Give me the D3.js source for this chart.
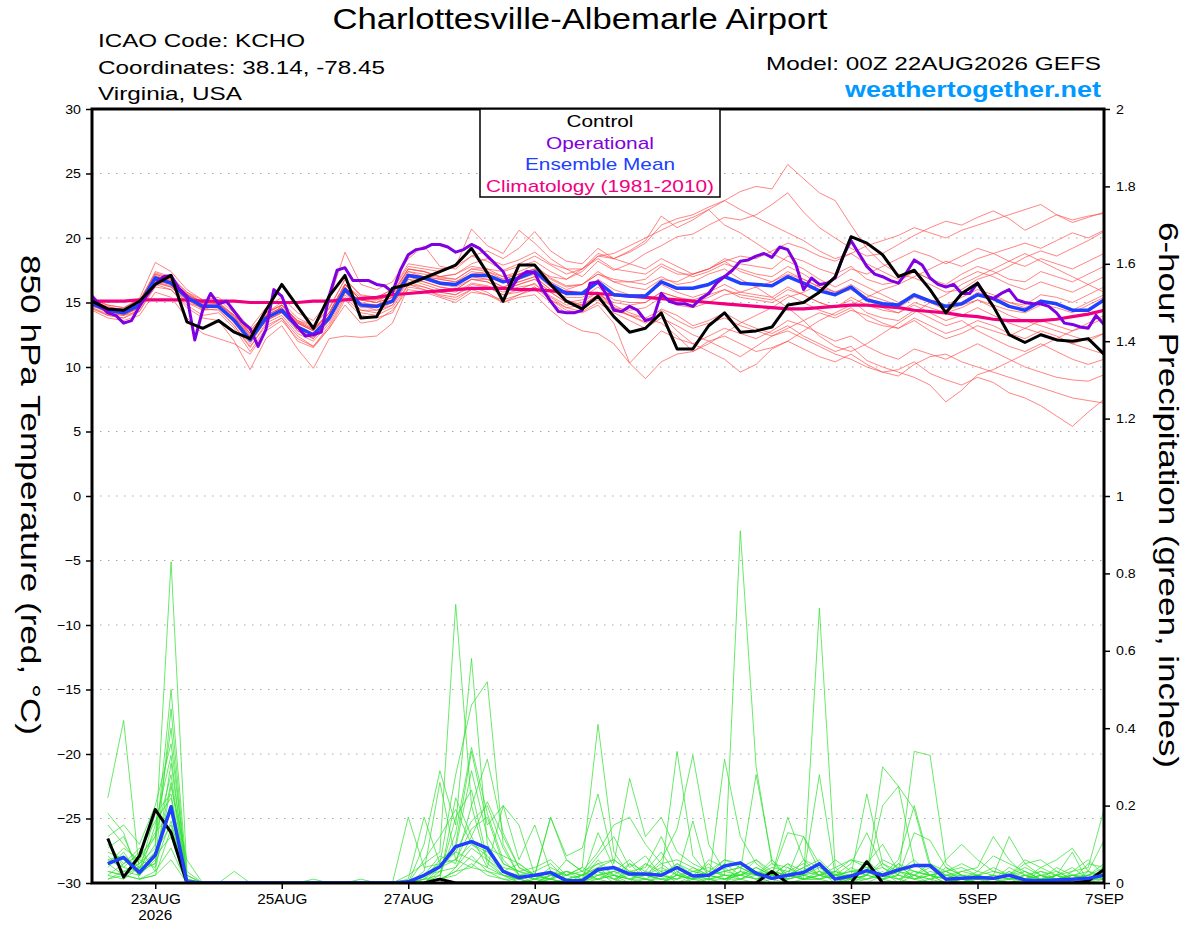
<!DOCTYPE html>
<html>
<head>
<meta charset="utf-8">
<script src="https://cdn.jsdelivr.net/npm/d3@7"></script>
<style>
  body { margin: 0; background: #fff; }
  svg text { font-family: 'Liberation Sans', Arial, Helvetica, sans-serif; }
</style>
</head>
<body>
<svg id="chart" width="1200" height="927"></svg>
<script>
// ---- data ----
var runStart = Date.UTC(2026, 7, 22, 0);   // 00Z 22AUG2026
var runEnd = Date.UTC(2026, 8, 7, 0);

var tempTicks = [-30, -25, -20, -15, -10, -5, 0, 5, 10, 15, 20, 25, 30];
var gridTicks = [-25, -20, -15, -10, -5, 0, 5, 10, 15, 20, 25];
var precipTicks = [0, 0.2, 0.4, 0.6, 0.8, 1, 1.2, 1.4, 1.6, 1.8, 2];
var dateTicks = ["2026-08-23", "2026-08-25", "2026-08-27", "2026-08-29", "2026-09-01", "2026-09-03", "2026-09-05", "2026-09-07"];
var dateLabels = ["23AUG", "25AUG", "27AUG", "29AUG", "1SEP", "3SEP", "5SEP", "7SEP"];

var legendItems = ["Control", "Operational", "Ensemble Mean", "Climatology (1981-2010)"];
var legendColors = ["#000000", "#8000e0", "#2040ff", "#f0007f"];

// 850 hPa temperature, 6-hourly from 00Z 22AUG (65 values)
var controlTemp = [15.1,14.5,14.4,15.1,16.4,17.1,13.5,13.0,13.6,12.7,12.2,14.4,16.4,14.7,13.0,15.5,17.1,13.8,13.9,16.1,16.4,16.9,17.4,17.9,19.2,17.3,15.1,17.9,17.9,16.4,15.1,14.5,15.5,13.9,12.7,13.0,14.2,11.4,11.4,13.2,14.2,12.7,12.8,13.1,14.8,15.0,15.8,17.0,20.1,19.6,18.7,17.0,17.5,16.0,14.2,15.7,16.5,14.7,12.5,11.9,12.5,12.1,12.0,12.2,11.0];
var meanTemp = [14.9,14.4,14.2,14.8,16.9,16.5,15.4,14.7,14.7,13.6,12.1,13.8,14.4,13.1,12.5,13.8,16.0,14.8,14.7,15.1,17.1,16.9,16.5,16.4,17.1,17.1,16.6,16.9,17.4,16.4,15.7,15.7,16.6,15.6,15.5,15.5,16.6,16.1,16.1,16.4,17.0,16.5,16.4,16.3,17.0,16.5,15.9,15.6,16.2,15.2,14.9,14.8,15.6,15.1,14.7,14.9,15.6,15.3,14.7,14.4,15.1,14.9,14.4,14.4,15.2];
var climoTemp = [15.1,15.1,15.1,15.2,15.2,15.2,15.2,15.1,15.1,15.1,15.0,15.0,15.0,15.0,15.1,15.1,15.2,15.3,15.4,15.6,15.7,15.8,15.9,16.0,16.1,16.1,16.1,16.0,16.0,15.9,15.8,15.7,15.7,15.6,15.5,15.4,15.3,15.2,15.1,15.0,14.9,14.8,14.7,14.6,14.5,14.5,14.6,14.7,14.8,14.8,14.7,14.6,14.4,14.3,14.2,14.0,13.9,13.7,13.6,13.6,13.6,13.7,13.9,14.1,14.4];
// operational run is 3-hourly (129 values)
var operationalTemp = [15.5,14.8,14.2,14.0,13.4,13.6,14.7,15.6,16.4,17.0,17.1,16.1,15.5,12.1,14.4,15.7,14.9,15.1,14.3,13.5,13.0,11.6,12.9,16.0,15.5,13.9,13.1,12.4,12.5,12.7,15.5,17.5,17.7,16.7,16.7,16.7,16.4,16.3,15.8,17.5,18.7,19.1,19.2,19.5,19.5,19.3,18.9,19.1,19.5,19.2,18.6,18.0,17.4,16.1,17.0,17.4,17.3,16.0,15.1,14.3,14.2,14.2,14.4,16.5,16.6,15.7,14.4,14.3,14.7,14.4,13.6,13.8,15.7,15.1,14.9,14.9,14.7,15.3,15.7,16.5,17.0,17.5,18.2,18.3,18.6,18.8,18.5,19.3,19.1,18.0,16.0,16.9,16.4,16.5,16.9,18.6,19.8,18.8,17.8,17.2,17.0,16.7,16.5,17.3,18.3,17.9,16.9,16.4,16.2,16.4,15.7,15.7,16.5,15.5,15.3,15.7,16.0,15.2,15.0,14.9,14.9,14.7,14.2,13.4,13.3,13.1,13.0,14.0,13.3];

// ensemble members, 6-hourly (65 values each)
var memberTemp = [
  [15.2,14.6,14.5,15.0,17.4,17.0,15.8,15.2,15.0,14.0,12.8,14.2,15.0,13.8,13.2,14.5,16.8,15.5,15.4,16.0,18.0,17.8,17.6,17.8,18.6,18.2,17.5,18.0,18.6,17.9,17.2,17.6,18.8,18.4,18.9,19.6,21.0,21.5,21.8,22.4,22.9,23.6,24.0,23.8,25.7,24.6,23.5,22.9,21.0,19.2,18.0,17.2,16.9,16.4,15.8,16.0,16.8,17.2,17.8,18.5,19.0,18.6,19.2,19.8,20.5],
  [14.8,14.2,14.0,14.6,17.2,16.8,15.6,14.4,14.9,13.9,12.5,13.5,14.8,13.5,12.9,14.2,16.4,15.2,15.0,15.8,17.6,17.4,17.0,17.2,18.0,18.4,17.9,18.3,18.9,18.0,17.6,17.0,18.2,17.5,18.0,18.8,19.4,20.1,20.3,21.0,21.6,21.4,21.8,22.6,23.5,22.0,20.8,20.0,19.2,18.6,18.8,19.5,20.2,20.8,21.3,21.0,21.6,22.1,21.5,20.6,21.2,21.8,21.4,21.7,21.9],
  [15.0,14.5,14.0,14.3,16.2,16.0,14.8,14.0,14.2,13.0,11.2,13.0,13.8,12.0,11.5,13.0,15.2,14.0,13.8,14.2,16.4,16.0,15.5,15.2,16.0,16.2,15.6,16.0,16.5,15.2,14.6,14.3,15.0,14.2,13.6,13.0,13.8,13.2,12.5,12.0,12.4,11.8,11.2,11.5,12.0,11.4,10.8,10.4,11.0,10.2,9.6,9.8,10.4,9.5,9.0,8.6,9.2,8.8,8.0,7.6,7.0,6.2,5.4,6.5,7.5],
  [14.6,14.0,13.8,14.5,16.5,16.2,15.2,14.5,14.4,13.2,11.5,13.4,14.0,12.6,12.0,13.4,15.6,14.4,14.2,14.8,16.8,16.4,16.0,15.8,16.5,16.3,15.8,16.2,16.4,15.5,14.8,15.0,15.8,14.6,14.0,13.5,14.5,14.0,13.2,13.6,14.2,13.5,13.0,12.6,13.2,12.4,11.8,11.2,11.6,10.5,10.0,9.6,9.2,8.6,7.3,8.2,9.4,9.8,10.4,11.0,11.6,12.2,12.8,13.4,14.0],
  [15.1,14.7,14.4,15.0,17.0,16.6,15.5,14.8,14.6,13.5,12.0,13.6,14.2,13.0,12.2,13.6,15.8,14.6,14.6,15.2,17.0,16.6,16.2,16.0,16.8,16.6,16.0,16.4,16.8,15.8,15.0,14.8,15.2,14.4,14.0,13.8,14.4,13.6,13.0,13.4,13.8,13.2,12.8,12.4,12.8,12.2,11.6,11.0,10.6,10.0,9.6,9.3,10.2,10.8,11.0,10.4,10.0,9.6,9.2,8.8,8.4,8.0,7.6,7.4,7.2],
  [14.7,14.3,14.1,14.6,16.6,16.3,15.0,14.6,14.8,13.6,12.2,13.6,14.6,12.8,12.2,13.8,16.2,14.8,14.4,14.8,16.6,16.2,15.8,15.6,16.2,15.8,15.0,15.4,15.6,14.4,13.4,12.8,12.6,11.8,10.3,9.1,10.4,11.0,11.2,12.0,11.4,10.8,11.6,12.4,13.0,13.6,14.2,13.8,14.4,14.0,13.4,13.0,13.6,12.8,12.2,12.6,13.2,12.8,12.4,13.0,12.6,12.2,11.8,12.2,12.6],
  [15.3,14.8,14.6,15.2,17.2,16.8,15.6,15.0,15.2,14.2,12.6,14.2,14.8,13.6,13.0,14.2,16.4,15.2,15.0,15.4,17.4,17.0,16.6,16.4,17.0,16.8,16.2,16.6,17.0,16.0,15.2,14.8,15.6,14.6,14.0,13.4,14.0,12.8,11.8,11.2,10.6,9.6,10.2,11.4,12.0,12.8,13.6,14.2,14.8,15.4,16.0,16.4,17.0,17.6,18.2,17.8,18.4,18.8,19.2,19.6,19.2,19.8,20.4,20.0,20.6],
  [14.9,14.5,14.3,14.9,17.0,16.6,15.6,14.9,14.6,13.8,12.4,14.0,14.6,13.4,12.8,14.2,16.4,15.2,15.2,15.6,17.6,17.4,17.0,17.2,17.8,17.6,17.4,17.8,18.2,17.4,16.8,17.4,18.6,18.8,19.4,20.0,20.6,21.2,21.6,22.2,21.0,20.4,19.6,18.8,18.2,17.6,16.8,16.2,16.8,16.2,15.6,15.0,15.6,15.0,14.4,14.8,15.2,14.6,14.0,13.6,13.2,12.8,12.4,12.0,12.6],
  [14.8,14.4,14.2,14.7,16.8,16.4,15.3,14.6,14.7,13.6,12.0,13.6,14.2,13.0,12.6,14.0,16.0,14.8,14.8,15.2,17.2,17.0,16.8,16.6,17.2,17.4,16.8,17.2,17.6,16.8,16.2,16.4,17.2,16.6,16.2,16.0,16.8,16.6,17.2,17.6,18.2,18.6,18.4,19.0,19.6,19.2,18.6,18.2,18.8,19.4,19.8,20.2,20.8,20.4,20.0,20.6,21.0,21.4,21.8,22.2,22.6,21.8,21.2,21.6,22.0],
  [14.9,14.3,14.1,14.7,16.7,16.4,15.3,14.7,14.8,13.4,11.8,13.6,14.2,12.8,12.2,13.6,15.8,14.4,14.4,15.0,16.8,16.6,16.2,16.0,16.8,16.8,16.2,16.6,17.0,16.0,15.4,15.4,16.2,15.2,15.0,15.0,15.8,15.4,15.2,15.6,16.0,15.4,15.2,15.0,15.6,15.0,14.4,14.0,14.6,13.6,13.2,13.0,13.8,13.2,12.6,13.0,13.6,13.2,12.6,12.2,12.8,12.4,11.8,11.4,11.0],
  [15.0,14.6,14.4,15.1,17.3,16.9,15.8,15.0,14.9,13.9,12.6,14.1,14.8,13.5,12.9,14.2,16.4,15.2,15.0,15.4,17.4,17.2,16.9,16.8,17.6,17.6,17.0,17.4,17.9,16.9,16.3,16.4,17.4,16.6,16.6,16.8,17.8,17.2,17.2,17.6,18.4,18.0,17.8,17.6,18.6,18.2,17.6,17.2,17.8,16.8,16.4,16.6,17.4,16.8,16.4,17.2,17.8,17.4,16.8,16.6,17.4,17.0,16.6,17.2,17.8],
  [14.5,14.0,13.8,14.3,16.4,16.0,14.6,13.8,13.6,12.0,9.8,12.2,13.2,11.4,9.9,12.2,12.4,12.3,12.4,13.4,16.2,16.0,15.6,15.4,16.0,15.6,15.0,15.6,16.0,15.0,14.2,14.4,15.4,14.6,14.4,14.6,15.4,14.8,14.6,15.0,15.6,15.8,16.2,16.6,17.2,16.8,16.2,15.6,16.0,15.2,14.6,14.2,14.8,14.2,13.6,14.0,14.6,14.0,13.4,13.0,13.6,13.2,12.8,13.2,13.8],
  [15.2,14.8,14.6,15.3,18.1,17.4,16.0,15.2,15.4,14.4,13.0,14.6,15.4,14.2,13.6,15.2,18.9,16.4,16.0,16.6,18.4,19.4,17.8,17.6,18.6,19.0,18.4,19.2,20.5,19.0,18.2,18.0,19.2,18.4,18.0,17.6,18.4,17.8,17.2,17.6,18.2,17.4,17.0,16.6,17.4,16.8,16.2,15.8,16.4,15.6,15.2,14.8,15.6,15.2,14.8,15.4,16.0,15.6,15.0,14.6,15.2,14.8,14.4,15.0,15.6],
  [14.8,14.4,14.3,14.9,17.0,16.7,15.6,15.0,14.9,14.0,12.8,14.2,14.8,13.6,13.2,14.6,16.8,15.6,15.4,16.0,17.8,17.6,17.4,17.8,20.7,19.4,18.8,20.6,19.6,18.4,17.6,17.6,18.4,17.6,17.4,17.2,18.0,17.4,17.0,17.4,18.0,17.6,17.2,17.0,17.8,17.2,16.4,15.8,16.2,15.4,14.8,14.6,15.4,15.0,14.6,15.0,15.8,15.4,15.0,14.8,15.6,15.4,15.0,15.6,16.2],
  [14.6,14.1,14.0,14.6,16.6,16.2,15.0,14.4,14.5,13.2,11.6,13.2,13.8,12.4,11.6,13.2,15.4,14.2,14.0,14.6,16.4,16.2,15.8,15.6,16.4,16.2,15.6,15.8,16.2,15.2,14.4,14.2,14.8,13.4,10.3,11.6,12.8,12.2,11.8,12.4,13.0,12.6,12.2,12.8,13.6,13.2,12.6,12.0,12.4,11.6,11.0,10.6,11.4,11.0,10.6,11.2,11.8,11.2,10.6,10.0,9.6,9.2,9.0,8.9,9.4],
  [15.0,14.4,14.2,14.8,16.8,16.5,15.4,14.7,14.6,13.6,12.2,13.8,14.4,13.0,12.4,13.8,16.0,14.8,14.6,15.0,17.0,16.8,16.4,16.2,16.8,16.6,16.0,16.4,16.8,15.8,15.0,15.2,15.8,14.8,14.2,13.8,13.4,12.4,11.2,11.8,12.6,13.4,14.0,14.6,15.4,15.8,16.4,16.8,17.6,17.2,17.8,18.4,19.0,18.6,18.0,18.6,19.2,18.8,18.2,17.8,18.4,18.0,17.6,18.2,18.8],
  [14.9,14.4,14.1,14.8,16.9,16.4,15.2,14.6,14.6,13.5,12.2,13.8,14.4,13.2,12.6,13.9,16.0,14.8,14.8,15.2,17.0,16.8,16.6,16.4,17.0,17.0,16.6,16.8,17.2,16.2,15.6,15.8,16.8,16.0,15.6,15.6,16.4,15.8,15.4,15.8,16.4,15.8,15.6,15.4,16.2,15.6,15.0,14.6,15.2,14.2,13.8,13.6,14.4,13.8,13.2,13.6,12.8,12.2,11.6,11.2,11.8,11.2,10.6,10.2,10.6],
  [15.1,14.6,14.4,15.0,17.0,16.6,15.6,14.9,14.8,13.8,12.4,14.0,14.6,13.4,12.8,14.0,16.2,15.0,14.8,15.4,17.2,17.0,16.8,16.6,17.4,17.2,16.8,17.2,17.6,17.0,16.8,17.6,18.6,18.4,19.0,19.8,21.7,20.8,21.4,22.2,22.9,22.2,21.6,21.0,20.4,19.8,19.0,18.4,18.8,18.0,17.4,16.8,17.4,16.8,16.2,16.8,17.4,17.0,16.4,16.0,16.6,16.2,15.8,16.4,17.0],
  [14.4,13.8,13.6,14.0,15.8,15.4,13.8,12.6,12.2,11.8,11.0,12.8,13.6,12.2,11.6,13.0,14.8,13.4,13.6,14.4,16.0,15.8,15.4,15.0,15.8,15.6,15.2,15.6,16.2,15.4,14.6,14.8,15.6,15.0,14.8,15.0,15.8,15.4,15.0,15.4,16.0,15.6,15.4,15.2,16.0,15.6,15.0,14.6,15.4,14.8,14.4,14.2,15.0,14.6,14.2,14.6,15.2,14.8,14.4,14.2,14.8,14.6,14.2,14.8,15.4],
  [15.0,14.5,14.3,14.9,17.1,16.7,15.7,15.0,15.0,14.0,12.6,14.0,14.6,13.4,12.8,14.2,16.4,15.4,15.2,15.6,17.6,17.4,17.0,16.8,17.6,17.4,17.0,17.2,17.6,16.6,16.0,16.4,17.2,16.8,16.6,16.4,17.0,16.4,16.6,17.2,17.6,16.8,16.2,15.4,14.6,13.6,12.4,11.6,11.2,11.8,12.6,13.4,14.2,15.0,15.6,16.4,17.0,17.6,18.2,18.8,18.2,17.6,17.0,16.4,15.8]
];

// 6-hour precipitation (inches), periods ending 06Z 22AUG .. 00Z 7SEP (64 values)
var controlPrecip = [0.115,0.015,0.07,0.19,0.13,0,0,0,0,0,0,0,0,0,0,0,0,0,0,0,0,0.01,0,0,0,0,0,0,0,0,0,0,0,0,0,0,0,0,0,0,0,0,0.03,0,0,0,0,0,0.055,0,0,0,0,0,0,0,0,0,0,0,0,0,0.005,0.035];
var meanPrecip = [0.05,0.066,0.027,0.072,0.197,0.003,0,0,0,0,0,0,0,0,0,0,0,0,0,0.003,0.02,0.042,0.094,0.107,0.09,0.03,0.014,0.02,0.027,0.006,0.006,0.035,0.04,0.023,0.023,0.02,0.04,0.018,0.02,0.044,0.052,0.025,0.012,0.02,0.027,0.05,0.01,0.018,0.032,0.02,0.034,0.045,0.045,0.01,0.012,0.014,0.012,0.02,0.008,0.006,0.008,0.01,0.012,0.02];
var memberPrecip = [
  [0.05,0.02,0.04,0.10,0.83,0.03,0,0,0,0,0,0,0,0,0,0,0,0,0,0.02,0.05,0.08,0.72,0.20,0.05,0.02,0,0.01,0.03,0,0.02,0.05,0.02,0,0.01,0,0.03,0,0.01,0.02,0.91,0.30,0.05,0.02,0.01,0.03,0,0.02,0.05,0.01,0,0.02,0,0,0.01,0,0,0,0.02,0,0,0.01,0,0.03],
  [0.22,0.42,0.03,0.05,0.45,0,0,0,0,0,0,0,0,0,0,0,0,0,0,0,0.10,0.29,0.15,0.58,0.10,0.03,0,0,0.02,0.01,0,0.03,0,0.05,0.01,0,0.02,0.01,0,0,0.05,0.02,0,0.04,0.01,0.71,0.04,0,0.01,0.03,0,0.05,0.02,0,0,0.01,0,0,0.01,0,0.02,0,0,0],
  [0.12,0.15,0.10,0.20,0.36,0.02,0,0,0,0,0,0,0,0,0,0,0,0,0,0.17,0.04,0.05,0.28,0.46,0.52,0.10,0.02,0,0.01,0,0,0.03,0.01,0,0.05,0.03,0,0.02,0.01,0,0.03,0.28,0.06,0.01,0.02,0.28,0.02,0,0.02,0.30,0.25,0.05,0.02,0,0.01,0,0.01,0,0,0.02,0,0.03,0.04,0.19],
  [0.08,0.06,0.02,0.15,0.33,0,0,0,0,0,0,0,0,0,0,0,0,0,0,0,0.02,0.03,0.10,0.34,0.15,0.20,0.06,0.15,0.03,0.02,0.04,0.41,0.08,0.02,0.02,0.01,0.05,0.02,0,0.32,0.12,0.05,0.02,0.17,0.06,0.02,0.01,0.02,0.23,0.05,0.02,0.34,0.33,0.05,0.02,0,0,0.03,0,0,0.02,0.08,0,0.02],
  [0.15,0.10,0.05,0.12,0.28,0,0,0,0.03,0,0,0,0,0,0,0,0,0,0,0,0.02,0.05,0.08,0.06,0.04,0.20,0.15,0.02,0.17,0.07,0.09,0.23,0.05,0.27,0.12,0.17,0.08,0.05,0.03,0.06,0.04,0.02,0.06,0.02,0.12,0.05,0.02,0.03,0.02,0.20,0.25,0.19,0.04,0.02,0.02,0.01,0.02,0.12,0.05,0.02,0,0.01,0.02,0.05],
  [0.03,0.02,0.01,0.03,0.25,0.06,0,0,0,0,0,0,0,0,0,0,0,0,0,0.01,0.17,0.05,0.06,0.10,0.08,0.04,0.03,0.01,0.02,0.01,0,0.02,0.03,0.02,0.05,0.02,0.34,0.07,0.02,0.05,0.02,0.04,0.02,0.13,0.12,0.03,0.01,0,0,0.02,0.03,0.06,0.02,0.03,0.05,0.03,0.07,0.05,0.03,0.01,0.02,0,0.03,0.11],
  [0.06,0.04,0.03,0.08,0.20,0.01,0,0,0,0,0,0,0,0.01,0,0,0,0,0,0,0.03,0.26,0.06,0.04,0.09,0.07,0.05,0.02,0.01,0.06,0.03,0.05,0.06,0.03,0.04,0.12,0.03,0.01,0.02,0.03,0.04,0.06,0.02,0.05,0.01,0.02,0.04,0.06,0.05,0.10,0.03,0.02,0.04,0.01,0,0.02,0.04,0.02,0.05,0.06,0.03,0.01,0,0.01],
  [0.02,0.01,0.04,0.05,0.16,0,0,0,0,0,0,0,0,0,0,0,0.01,0,0,0,0,0.03,0.04,0.12,0.21,0.12,0.04,0.02,0.17,0.06,0.03,0.08,0.15,0.17,0.10,0.05,0.06,0.04,0.02,0.03,0.02,0.01,0.03,0.02,0.04,0.02,0.06,0.03,0.03,0.01,0.05,0.01,0.02,0.03,0.01,0,0,0.01,0.02,0.01,0.04,0.02,0.01,0.03],
  [0.10,0.05,0.07,0.12,0.40,0,0,0,0,0,0,0,0,0,0,0,0,0,0,0,0.01,0.02,0.17,0.24,0.06,0.03,0.02,0.01,0,0.01,0.02,0.01,0,0.03,0.02,0.06,0.14,0.33,0.10,0.03,0.04,0.02,0.05,0.04,0.02,0.01,0.03,0.01,0.02,0.05,0.03,0.01,0,0.06,0.10,0.06,0.03,0.02,0.06,0.04,0.02,0.01,0.05,0.04],
  [0.04,0.08,0.02,0.07,0.12,0,0,0,0,0,0,0,0,0,0,0,0,0,0,0,0.01,0.06,0.09,0.29,0.12,0.05,0.03,0.04,0.06,0.02,0.01,0.06,0.02,0.05,0.03,0.02,0.01,0.04,0.02,0.01,0.03,0.02,0.01,0.02,0.04,0.06,0.02,0.02,0.03,0.04,0.02,0.13,0.11,0.04,0.02,0.02,0.01,0.03,0.01,0,0.01,0.02,0.03,0.02],
  [0.01,0.03,0.05,0.09,0.50,0.02,0,0,0,0,0,0,0,0,0,0,0,0,0,0,0,0.04,0.08,0.16,0.20,0.09,0.02,0.01,0.04,0.02,0.03,0.01,0.02,0.01,0.03,0.08,0.02,0.16,0.01,0.01,0.02,0.03,0.01,0.03,0.02,0.04,0.01,0.01,0.06,0.02,0.01,0.03,0.02,0.01,0.01,0.03,0.02,0.01,0.01,0.04,0.06,0.09,0.03,0.01],
  [0.09,0.12,0.03,0.18,0.23,0,0,0,0,0,0,0,0,0,0,0,0,0,0,0,0.06,0.12,0.19,0.10,0.07,0.03,0.05,0.02,0.01,0.03,0.02,0.07,0.12,0.04,0.07,0.02,0.05,0.03,0.04,0.02,0.02,0.06,0.03,0.02,0.01,0.01,0.02,0.05,0.13,0.04,0.01,0.02,0.01,0.04,0.02,0.01,0.01,0.02,0.03,0.01,0.02,0.03,0.06,0.02],
  [0.03,0.02,0.06,0.04,0.31,0.01,0,0,0,0,0,0,0,0,0,0,0,0,0,0,0.01,0.01,0.22,0.12,0.04,0.02,0.01,0,0.02,0.03,0.01,0.13,0.04,0.02,0.01,0.03,0.04,0.02,0.05,0.01,0.03,0.01,0.02,0.01,0.06,0.04,0.02,0.01,0.02,0.01,0.03,0.02,0.01,0.02,0.03,0.04,0.12,0.06,0.02,0.01,0.01,0.02,0.01,0.01],
  [0.07,0.03,0.02,0.06,0.26,0,0,0,0,0,0,0,0,0,0,0,0,0,0,0,0.02,0.07,0.05,0.20,0.32,0.13,0.04,0.02,0.01,0.02,0.04,0.02,0.03,0.06,0.02,0.01,0.02,0.03,0.02,0.06,0.05,0.02,0.04,0.03,0.05,0.02,0.01,0.04,0.02,0.06,0.04,0.02,0.05,0.03,0.01,0.02,0.01,0.04,0.02,0.03,0.01,0.02,0.01,0.02],
  [0.05,0.09,0.06,0.13,0.18,0.01,0,0,0,0,0,0,0,0,0,0,0,0,0,0,0,0.02,0.13,0.35,0.18,0.06,0.02,0.03,0.05,0.01,0.02,0.04,0.01,0.03,0.02,0.04,0.02,0.01,0.06,0.04,0.01,0.03,0.02,0.01,0.02,0.03,0.02,0.03,0.04,0.02,0.06,0.20,0.05,0.02,0.01,0.01,0.02,0.01,0.01,0.02,0.03,0.01,0.02,0.03],
  [0.11,0.04,0.08,0.16,0.22,0,0,0,0,0,0,0,0,0,0,0,0,0,0,0,0,0.01,0.03,0.07,0.03,0.02,0.01,0.02,0.03,0.01,0.02,0.03,0.02,0.01,0.02,0.01,0.01,0.02,0.01,0.02,0.01,0.03,0.01,0.02,0.01,0.02,0.03,0.02,0.01,0.02,0.04,0.03,0.02,0.01,0.03,0.02,0.03,0.02,0.04,0.02,0.01,0.02,0.02,0.04],
  [0.18,0.13,0.01,0.02,0.14,0,0,0,0,0,0,0,0,0,0,0,0,0,0,0,0,0.01,0.02,0.05,0.02,0.01,0,0.01,0.01,0,0.01,0.02,0.01,0.02,0.01,0,0.02,0.01,0.02,0.01,0.02,0.01,0.02,0.01,0.02,0.01,0.02,0.01,0.02,0.01,0.02,0.01,0.02,0.01,0.02,0.01,0.01,0.01,0.02,0.01,0.01,0.02,0.01,0.02],
  [0.02,0.05,0.09,0.03,0.09,0,0,0,0,0,0,0,0,0,0,0,0,0,0,0,0,0,0.04,0.09,0.06,0.02,0.01,0,0.02,0.01,0,0.01,0.03,0.01,0,0.02,0.01,0.03,0.02,0.01,0.01,0.02,0.03,0.02,0.01,0.02,0.01,0.02,0.03,0.01,0.02,0.01,0.03,0.02,0.01,0.01,0.02,0.01,0.03,0.01,0.02,0.01,0.02,0.01],
  [0.01,0.02,0.01,0.02,0.06,0,0,0,0,0,0,0,0,0,0,0,0,0,0,0,0,0.01,0.03,0.04,0.03,0.01,0.01,0,0.01,0,0.01,0.01,0.02,0.01,0.01,0.01,0,0.01,0.01,0,0.01,0,0.01,0,0.01,0.01,0,0.01,0.01,0.02,0.01,0,0.01,0,0.01,0.02,0.01,0,0.01,0.02,0.01,0,0.01,0.01],
  [0.06,0.07,0.04,0.08,0.15,0,0,0,0,0,0,0,0,0,0,0,0,0,0,0,0.01,0.04,0.06,0.14,0.17,0.05,0.03,0.02,0.01,0.03,0.02,0.04,0.06,0.03,0.02,0.05,0.02,0.01,0.03,0.02,0.02,0.04,0.02,0.05,0.03,0.02,0.03,0.06,0.04,0.02,0.05,0.03,0.02,0.03,0.04,0.02,0.01,0.02,0.01,0.03,0.02,0.04,0.01,0.02]
];

// ---- chart ----
var svg = d3.select("#chart");
var pLeft = 92, pRight = 1104, pTop = 109, pBottom = 883;
var H6 = 6 * 3600e3, H3 = 3 * 3600e3;

var x = d3.scaleUtc().domain([new Date(runStart), new Date(runEnd)]).range([pLeft, pRight]);
var yT = d3.scaleLinear().domain([-30, 30]).range([pBottom, pTop]);
var yP = d3.scaleLinear().domain([0, 2]).range([pBottom, pTop]);

function timeAt(i, step, offset) { return new Date(runStart + (i + (offset || 0)) * step); }

var tempLine = function(step) {
  return d3.line().x(function(d, i) { return x(timeAt(i, step)); }).y(function(d) { return yT(d); });
};
var precipLine = d3.line().x(function(d, i) { return x(timeAt(i, H6, 1)); }).y(function(d) { return yP(d); });

// the original uses a wide plotting font, so stretch text to its measured width
function widen(sel, w) {
  sel.attr("textLength", w).attr("lengthAdjust", "spacingAndGlyphs");
}

svg.append("rect").attr("width", 1200).attr("height", 927).attr("fill", "#fff");

// dotted grid
svg.append("g").selectAll("line").data(gridTicks).join("line")
  .attr("x1", pLeft).attr("x2", pRight)
  .attr("y1", function(d) { return yT(d); }).attr("y2", function(d) { return yT(d); })
  .style("stroke", "#a8a8a8").style("stroke-width", 1.2).style("stroke-dasharray", "1.5,6.5");

svg.append("clipPath").attr("id", "plotclip").append("rect")
  .attr("x", pLeft).attr("y", pTop).attr("width", pRight - pLeft).attr("height", pBottom - pTop);
var plot = svg.append("g").attr("clip-path", "url(#plotclip)");

// members
plot.append("g").selectAll("path").data(memberTemp).join("path")
  .attr("d", tempLine(H6))
  .style("fill", "none").style("stroke", "#ff4a4a").style("stroke-width", 0.8).style("stroke-opacity", 0.85);

plot.append("g").selectAll("path").data(memberPrecip).join("path")
  .attr("d", precipLine)
  .style("fill", "none").style("stroke", "#2ee02e").style("stroke-width", 0.8).style("stroke-opacity", 0.9);

// main lines
function drawMain(data, gen, color, w) {
  plot.append("path").datum(data).attr("d", gen)
    .style("fill", "none").style("stroke-linejoin", "round")
    .style("stroke", color).style("stroke-width", w);
}
drawMain(climoTemp, tempLine(H6), legendColors[3], 3.2);
drawMain(controlPrecip, precipLine, legendColors[0], 3);
drawMain(meanPrecip, precipLine, legendColors[2], 3.5);
drawMain(meanTemp, tempLine(H6), legendColors[2], 3.5);
drawMain(operationalTemp, tempLine(H3), legendColors[1], 3);
drawMain(controlTemp, tempLine(H6), legendColors[0], 3);

// frame
svg.append("rect").attr("x", pLeft).attr("y", pTop).attr("width", pRight - pLeft).attr("height", pBottom - pTop)
  .style("fill", "none").style("stroke", "#000").style("stroke-width", 3);

// axes
var axL = svg.append("g").attr("transform", "translate(" + pLeft + ",0)")
  .call(d3.axisLeft(yT).tickValues(tempTicks).tickSize(6).tickPadding(5));
var axR = svg.append("g").attr("transform", "translate(" + pRight + ",0)")
  .call(d3.axisRight(yP).tickValues(precipTicks).tickSize(6).tickPadding(6)
    .tickFormat(function(d) { return d3.format("~g")(d); }));
var axB = svg.append("g").attr("transform", "translate(0," + pBottom + ")")
  .call(d3.axisBottom(x).tickValues(dateTicks.map(function(d) { return new Date(d + "T00:00:00Z"); }))
    .tickSize(6).tickPadding(5).tickFormat(function(d, i) { return dateLabels[i]; }));

[axL, axR, axB].forEach(function(a) {
  a.select(".domain").remove();
  a.selectAll(".tick line").style("stroke", "#000").style("stroke-width", 1.5);
  a.selectAll(".tick text").style("fill", "#000").style("font-family", "'Liberation Sans', Arial, sans-serif");
});
axL.selectAll(".tick text").style("font-size", "13px");
axR.selectAll(".tick text").style("font-size", "13px");
axB.selectAll(".tick text").style("font-size", "14px");
[axL, axR, axB].forEach(function(a) {
  a.selectAll(".tick text").each(function() {
    widen(d3.select(this), this.getComputedTextLength() * 1.09);
  });
});

var yearLabel = svg.append("text").attr("x", x(new Date(dateTicks[0] + "T00:00:00Z"))).attr("y", 920)
  .attr("text-anchor", "middle").style("font-size", "14px").text("2026");
widen(yearLabel, yearLabel.node().getComputedTextLength() * 1.09);

// axis titles
widen(svg.append("text").attr("transform", "translate(21,495) rotate(90)")
  .attr("text-anchor", "middle").style("font-size", "27px").text("850 hPa Temperature (red, °C)"), 480);
widen(svg.append("text").attr("transform", "translate(1159,495) rotate(90)")
  .attr("text-anchor", "middle").style("font-size", "27px").text("6-hour Precipitation (green, inches)"), 546);

// header
widen(svg.append("text").attr("x", 580).attr("y", 29).attr("text-anchor", "middle")
  .style("font-size", "29px").text("Charlottesville-Albemarle Airport"), 495);
var info = ["ICAO Code: KCHO", "Coordinates: 38.14, -78.45", "Virginia, USA"];
var infoWidths = [207, 287, 144];
svg.append("g").selectAll("text").data(info).join("text")
  .attr("x", 98).attr("y", function(d, i) { return 47 + i * 26.5; })
  .style("font-size", "19px").text(function(d) { return d; })
  .attr("textLength", function(d, i) { return infoWidths[i]; }).attr("lengthAdjust", "spacingAndGlyphs");
widen(svg.append("text").attr("x", 1101).attr("y", 70).attr("text-anchor", "end")
  .style("font-size", "19px").text("Model: 00Z 22AUG2026 GEFS"), 335);
widen(svg.append("text").attr("x", 1101).attr("y", 97).attr("text-anchor", "end")
  .style("font-size", "22px").style("font-weight", "bold").style("fill", "#0099ff").text("weathertogether.net"), 256);

// legend
var legendWidths = [67, 108, 150, 228];
var lg = svg.append("g");
lg.append("rect").attr("x", 480).attr("y", pTop).attr("width", 240).attr("height", 88)
  .style("fill", "#fff").style("stroke", "#000").style("stroke-width", 1.5);
lg.selectAll("text").data(legendItems).join("text")
  .attr("x", 600).attr("y", function(d, i) { return 127 + i * 21.5; })
  .attr("text-anchor", "middle").style("font-size", "17px")
  .style("fill", function(d, i) { return legendColors[i]; })
  .text(function(d) { return d; })
  .attr("textLength", function(d, i) { return legendWidths[i]; }).attr("lengthAdjust", "spacingAndGlyphs");
</script>
</body>
</html>
